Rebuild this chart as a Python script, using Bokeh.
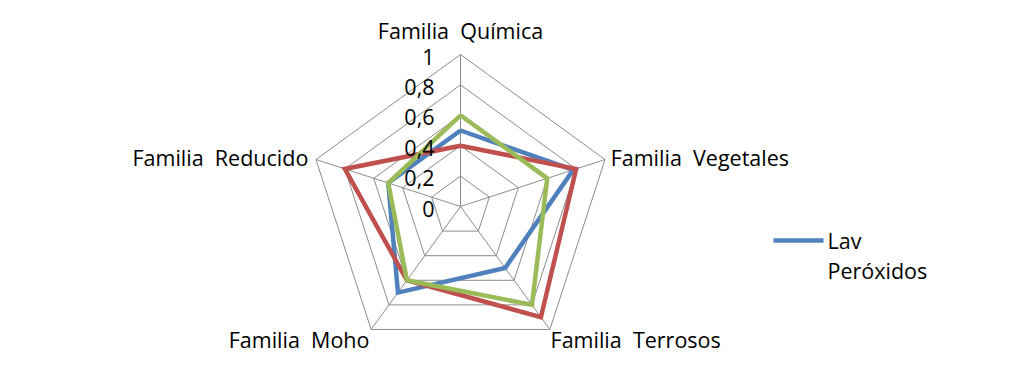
import numpy as np
from bokeh.plotting import figure
from bokeh.models import Range1d
from bokeh.core.properties import value
from bokeh.embed import file_html
from bokeh.resources import INLINE

categories = ["Familia\u00a0 Química", "Familia\u00a0 Vegetales", "Familia\u00a0 Terrosos", "Familia\u00a0 Moho", "Familia\u00a0 Reducido"]
lav_peroxidos = [0.5, 0.78, 0.5, 0.7, 0.5]
serie_roja = [0.4, 0.8, 0.9, 0.6, 0.8]
serie_verde = [0.6, 0.6, 0.8, 0.6, 0.5]
tick_values = [0, 0.2, 0.4, 0.6, 0.8, 1.0]
tick_labels = ["0", "0,2", "0,4", "0,6", "0,8", "1"]
legend_label = ["Lav", "Peróxidos"]

W, H = 1008, 369
R = 152.0          # pixels per unit radius
CX, CY = 460, 206  # position of the centre in the picture
ORG = 0            # picture offset of the figure
FONT = "Open Sans"
FS = "21.5px"

x0 = (ORG - CX) / R
x1 = (ORG + W - CX) / R
y1 = (CY - ORG) / R
y0 = (CY - ORG - H) / R

p = figure(width=W, height=H, output_backend="svg", toolbar_location=None,
           x_range=Range1d(x0, x1), y_range=Range1d(y0, y1),
           min_border=0, min_border_left=0, min_border_right=0,
           min_border_top=0, min_border_bottom=0)
p.axis.visible = False
p.grid.visible = False
p.outline_line_color = None
p.background_fill_color = "white"
p.border_fill_color = "white"

n = len(categories)
ang = np.deg2rad(90 - 72 * np.arange(n))
ux, uy = np.cos(ang), np.sin(ang)

grid_color = "#8c8c8c"
for t in tick_values[1:]:
    xs = list(ux * t) + [ux[0] * t]
    ys = list(uy * t) + [uy[0] * t]
    p.line(xs, ys, line_color=grid_color, line_width=1)
for i in range(n):
    p.line([0, ux[i]], [0, uy[i]], line_color=grid_color, line_width=1)

def closed(vals):
    v = np.array(vals)
    xs = list(ux * v) + [ux[0] * v[0]]
    ys = list(uy * v) + [uy[0] * v[0]]
    return xs, ys

for vals, col in [(lav_peroxidos, "#4F81BD"), (serie_roja, "#C0504D"), (serie_verde, "#9BBB59")]:
    xs, ys = closed(vals)
    p.line(xs, ys, line_color=col, line_width=4.5, line_join="miter")

# tick labels along the top axis
p.text(x=[-26 / R] * len(tick_values), y=[t - 2 / R for t in tick_values],
       text=tick_labels, text_align="right", text_baseline="middle",
       text_font=value(FONT), text_font_size=FS, text_color="black")

# category labels
off = 1.0 + 8 / R
lx = [0, ux[1] * off - 2 / R, ux[2] * off - 4 / R, ux[3] * off + 3 / R, ux[4] * off + 0 / R]
ly = [1.0 + 24 / R, uy[1] * off + 0 / R, uy[2] * off - 4 / R, uy[3] * off - 4 / R, uy[4] * off + 0 / R]
aligns = ["center", "left", "left", "right", "right"]
for i in range(n):
    p.text(x=[lx[i]], y=[ly[i]], text=[categories[i]], text_align=aligns[i],
           text_baseline="middle", text_font=value(FONT), text_font_size=FS, text_color="black")

# legend
lgx0, lgx1, lgy = (773 - CX) / R, (823 - CX) / R, (CY - 240) / R
p.line([lgx0, lgx1], [lgy, lgy], line_color="#4F81BD", line_width=4.5)
p.text(x=[(827 - CX) / R] * 2, y=[lgy, (CY - 270) / R], text=legend_label,
       text_align="left", text_baseline="middle", text_font=value(FONT),
       text_font_size=FS, text_color="black")

open("out.html", "w").write(file_html(p, INLINE))
